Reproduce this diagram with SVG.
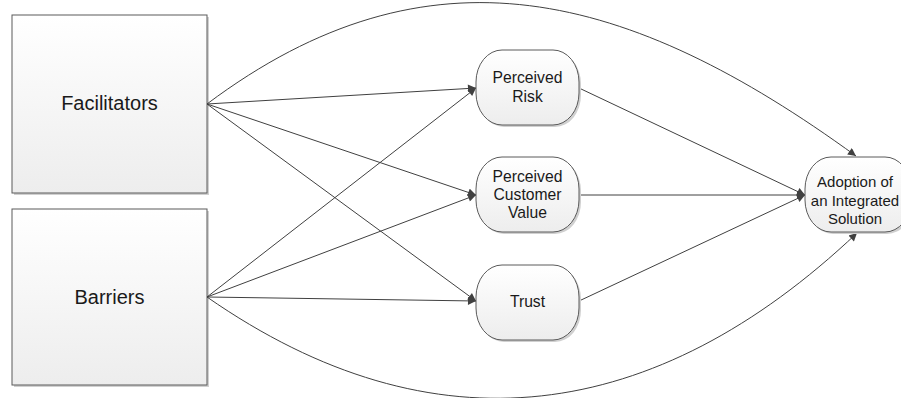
<svg xmlns="http://www.w3.org/2000/svg" width="901" height="398" viewBox="0 0 901 398">
<style>
.box{fill:url(#g);stroke:#5a5a5a;stroke-width:1}
.sh{fill:#d0d0d0}
.t1{font-family:"Liberation Sans",Arial,sans-serif;font-size:20px;fill:#1a1a1a;text-anchor:middle}
.t2{font-family:"Liberation Sans",Arial,sans-serif;font-size:15.7px;fill:#1a1a1a;text-anchor:middle}
.t3{font-family:"Liberation Sans",Arial,sans-serif;font-size:15px;fill:#1a1a1a;text-anchor:middle}
.c{fill:none;stroke:#404040;stroke-width:1}
</style>
<defs>
<linearGradient id="g" x1="0" y1="0" x2="0" y2="1">
<stop offset="0" stop-color="#ffffff"/>
<stop offset="1" stop-color="#ededed"/>
</linearGradient>
<marker id="a" viewBox="0 0 10 10" refX="10" refY="5" markerWidth="10" markerHeight="8" markerUnits="userSpaceOnUse" orient="auto">
<path d="M0,0 L10,5 L0,10 z" fill="#404040"/>
</marker>
</defs>
<g id="facilitators">
<rect class="sh" x="14" y="17" width="195" height="178"/>
<rect class="box" x="12" y="15" width="195" height="178"/>
<text class="t1" x="109.5" y="110">Facilitators</text>
</g>
<g id="barriers">
<rect class="sh" x="14" y="211" width="195" height="176"/>
<rect class="box" x="12" y="209" width="195" height="176"/>
<text class="t1" x="109.5" y="304">Barriers</text>
</g>
<g id="connectors">
<path class="c" marker-end="url(#a)" d="M207,104 L476,88"/>
<path class="c" marker-end="url(#a)" d="M207,104 L476,195"/>
<path class="c" marker-end="url(#a)" d="M207,104 L476,301"/>
<path class="c" marker-end="url(#a)" d="M207,297 L476,88"/>
<path class="c" marker-end="url(#a)" d="M207,297 L476,195"/>
<path class="c" marker-end="url(#a)" d="M207,297 L476,301"/>
<path class="c" marker-end="url(#a)" d="M579,88 L805,195"/>
<path class="c" marker-end="url(#a)" d="M579,195 L805,195"/>
<path class="c" marker-end="url(#a)" d="M579,301 L805,195"/>
<path class="c" marker-end="url(#a)" d="M207,104 C429,-62.5 629,-9 856,156"/>
<path class="c" marker-end="url(#a)" d="M207,297 C434,455 655,424 857,233"/>
</g>
<g id="perceived-risk">
<rect class="sh" x="478" y="52" width="103" height="75" rx="26" ry="32"/>
<rect class="box" x="476" y="50" width="103" height="75" rx="26" ry="32"/>
<text class="t2" x="527.5" y="82.7">Perceived</text>
<text class="t2" x="527.5" y="101.7">Risk</text>
</g>
<g id="perceived-customer-value">
<rect class="sh" x="478" y="159" width="103" height="75" rx="26" ry="32"/>
<rect class="box" x="476" y="157" width="103" height="75" rx="26" ry="32"/>
<text class="t2" x="527.5" y="181.7">Perceived</text>
<text class="t2" x="527.5" y="200">Customer</text>
<text class="t2" x="527.5" y="218.3">Value</text>
</g>
<g id="trust">
<rect class="sh" x="478" y="267" width="103" height="75" rx="26" ry="32"/>
<rect class="box" x="476" y="265" width="103" height="75" rx="26" ry="32"/>
<text class="t2" x="527.5" y="306.7">Trust</text>
</g>
<g id="adoption">
<rect class="sh" x="807" y="159" width="106" height="75" rx="26" ry="32"/>
<rect class="box" x="805" y="157" width="106" height="75" rx="26" ry="32"/>
<text class="t3" x="855" y="186.7">Adoption of</text>
<text class="t3" x="855" y="205.7">an Integrated</text>
<text class="t3" x="855" y="224">Solution</text>
</g>
</svg>
